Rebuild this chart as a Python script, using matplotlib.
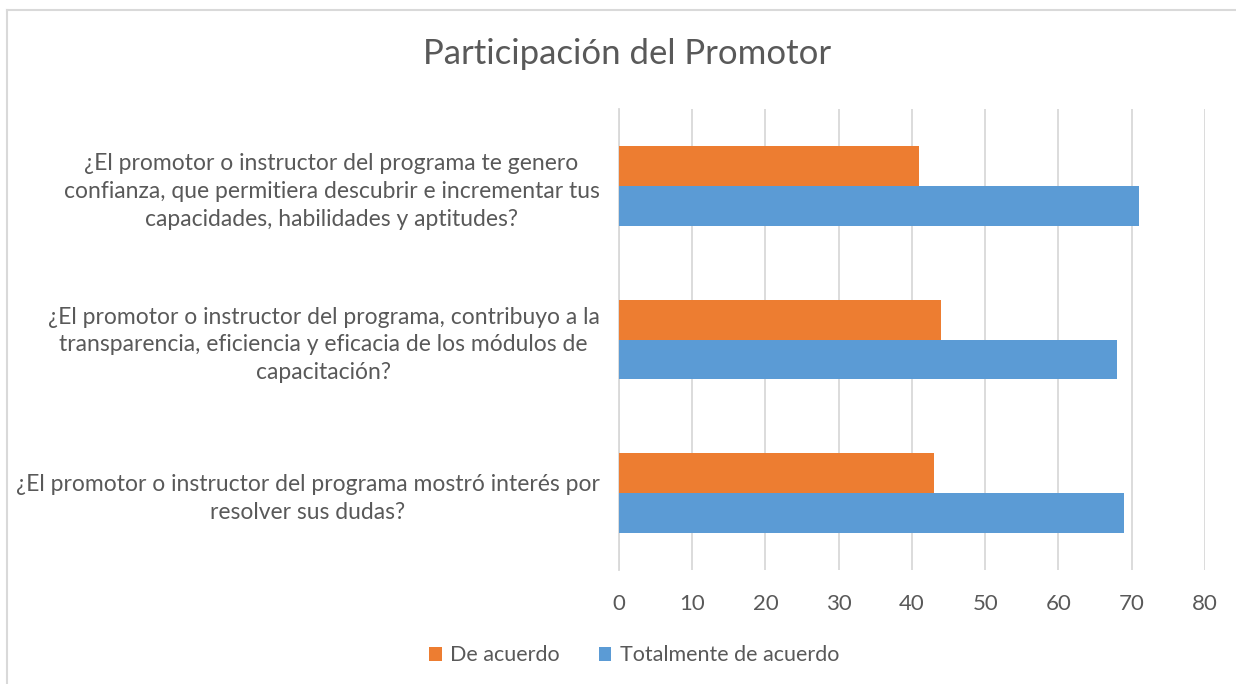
import matplotlib.pyplot as plt
from matplotlib.lines import Line2D
import numpy as np

plt.rcParams['font.family'] = ['Lato', 'DejaVu Sans']

preguntas = [
    "¿El promotor o instructor del programa mostró interés por\nresolver sus dudas?",
    "¿El promotor o instructor del programa, contribuyo a la\ntransparencia, eficiencia y eficacia de los módulos de\ncapacitación?",
    "¿El promotor o instructor del programa te genero\nconfianza, que permitiera descubrir e incrementar tus\ncapacidades, habilidades y aptitudes?",
]
de_acuerdo = [43, 44, 41]
totalmente = [69, 68, 71]
ticks_x = [0, 10, 20, 30, 40, 50, 60, 70, 80]

c_orange = "#ED7D31"
c_blue = "#5B9BD5"
txt = "#595959"
grid = "#D9D9D9"

fig = plt.figure(figsize=(12.36, 6.84), dpi=100)
ax = fig.add_axes([0.5008, 0.1667, 0.4741, 0.6739])

y = np.arange(len(preguntas))
h = 0.26
ax.barh(y + h / 2, de_acuerdo, height=h, color=c_orange, label="De acuerdo", zorder=3)
ax.barh(y - h / 2, totalmente, height=h, color=c_blue, label="Totalmente de acuerdo", zorder=3)

ax.set_xlim(0, 80)
ax.set_ylim(-0.5, 2.5)
ax.set_xticks(ticks_x)
ax.set_xticklabels([str(t) for t in ticks_x], fontsize=16, color=txt)
ax.set_yticks(y)
ax.set_yticklabels(preguntas, fontsize=16.5, color=txt, linespacing=1.4)
for lab in ax.get_yticklabels():
    lab.set_multialignment("center")
ax.tick_params(axis="y", length=0, pad=14)
ax.tick_params(axis="x", length=0, pad=17)

ax.grid(axis="x", color=grid, linewidth=1.3, zorder=0)
for s in ["top", "right", "bottom"]:
    ax.spines[s].set_visible(False)
ax.spines["left"].set_color(grid)
ax.spines["left"].set_linewidth(1.3)

fig.suptitle("Participación del Promotor", x=0.507, y=0.945, fontsize=25, color=txt)

fig.legend(loc="center", bbox_to_anchor=(0.513, 0.042), ncol=2, frameon=False,
           fontsize=15.5, handlelength=0.6, handleheight=0.6, handletextpad=0.4,
           columnspacing=1.8, labelcolor=txt)

# outer chart border (top and left edges)
fig.add_artist(Line2D([7 / 1236, 7 / 1236], [0, 1 - 10 / 684], color=grid, linewidth=1.5))
fig.add_artist(Line2D([7 / 1236, 1], [1 - 10 / 684, 1 - 10 / 684], color=grid, linewidth=1.5))

fig.savefig("out.png", dpi=100)
